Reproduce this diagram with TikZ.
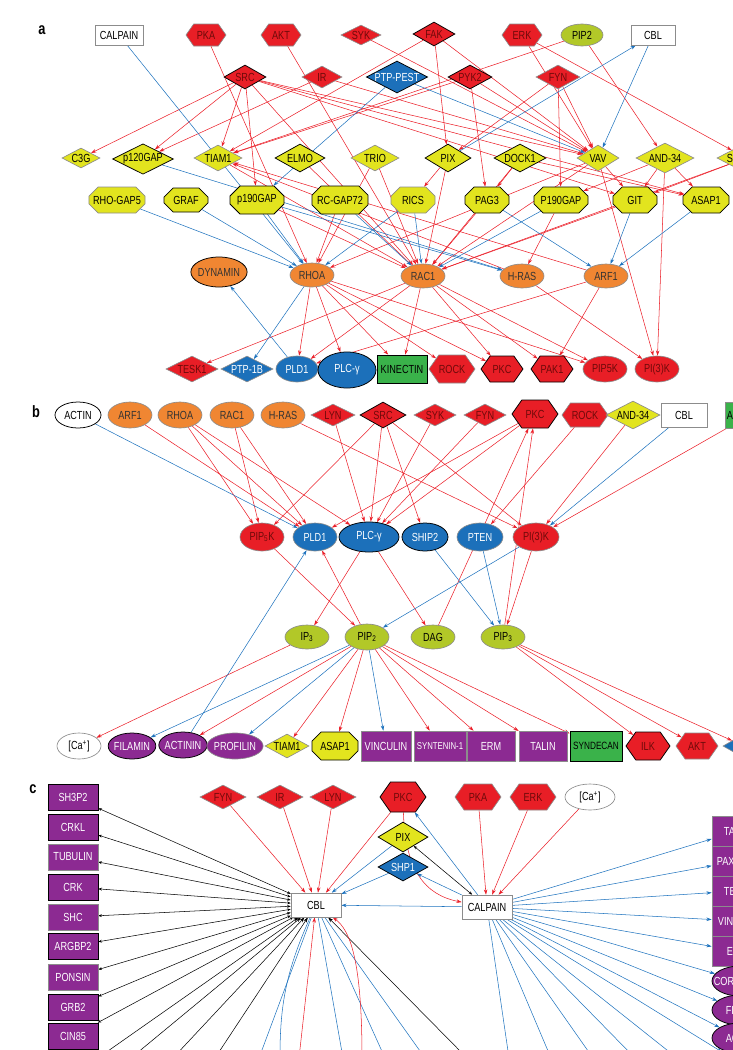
\documentclass[tikz,border=0pt]{standalone}
\usepackage{fontspec}
\newfontfamily\dfont[FakeStretch=0.78]{Liberation Sans}
\newcommand\nodefont{\dfont\fontsize{10}{10}\selectfont}
\usetikzlibrary{shapes.geometric,shapes.misc,shapes.symbols,arrows.meta,backgrounds}
\definecolor{nred}{RGB}{232,30,38}
\definecolor{ntxt}{RGB}{110,10,10}
\definecolor{nblue}{RGB}{28,112,186}
\definecolor{norg}{RGB}{240,134,50}
\definecolor{nyel}{RGB}{226,228,30}
\definecolor{nlime}{RGB}{178,200,40}
\definecolor{npur}{RGB}{140,42,146}
\definecolor{ngrn}{RGB}{58,178,74}
\definecolor{bord}{RGB}{140,140,140}
\definecolor{ered}{RGB}{235,30,40}
\definecolor{eblue}{RGB}{30,115,190}
\tikzset{
  nd/.style={inner sep=0pt, draw=bord, line width=0.55pt, font=\nodefont},
  bk/.style={draw=black, line width=0.65pt},
  sz/.style 2 args={minimum width=#1*0.03cm, minimum height=#2*0.03cm},
  dia/.style={nd, diamond, aspect=2},
  hex/.style={nd, signal, signal to=east and west, signal pointer angle=110},
  oct/.style={nd, chamfered rectangle, chamfered rectangle xsep=1.5mm, chamfered rectangle ysep=1.5mm},
  ell/.style={nd, ellipse, inner sep=-1pt},
  box/.style={nd, rectangle},
  kin/.style={fill=nred, text=ntxt},
  ptp/.style={fill=nblue, text=white},
  gef/.style={fill=nyel},
  gtp/.style={fill=norg, text=black!80},
  lip/.style={fill=nlime},
  cyt/.style={fill=npur, text=white},
  grn/.style={fill=ngrn},
  wht/.style={fill=white},
  cutl/.style n args={3}{label={[font=\nodefont, text=#2, anchor=west, inner sep=0pt, xshift=#1*0.03cm]west:#3}},
  ed/.style={line width=0.45pt, -{Stealth[length=4.5pt,width=3pt]}},
  ra/.style={ed, draw=ered},
  ba/.style={ed, draw=eblue},
  ka/.style={ed, draw=black},
  kk/.style={line width=0.45pt, draw=black, {Stealth[length=3pt,width=2.4pt]}-{Stealth[length=3pt,width=2.4pt]}},
  panel/.style={font=\dfont\fontsize{14}{14}\selectfont\bfseries}
}
\begin{document}
\begin{tikzpicture}[x=0.03cm, y=-0.03cm]
\useasboundingbox (0,0) rectangle (733,1050);
\clip (0,0) rectangle (733,1050);
% panel a
\node[panel] (la) at (42,30) {a};
\node[box,wht,sz={48}{20}] (aCALP) at (119,35) {CALPAIN};
\node[hex,kin,sz={40}{22}] (aPKA) at (206,35) {PKA};
\node[hex,kin,sz={40}{22}] (aAKT) at (281,35) {AKT};
\node[dia,kin,sz={40}{20}] (aSYK) at (361,35) {SYK};
\node[dia,kin,bk,sz={42}{24}] (aFAK) at (434,34) {FAK};
\node[hex,kin,sz={40}{22}] (aERK) at (522,35) {ERK};
\node[ell,lip,sz={42}{22}] (aPIPt) at (582,35) {PIP2};
\node[box,wht,sz={44}{20}] (aCBL) at (653,35) {CBL};
\node[dia,kin,bk,sz={42}{24}] (aSRC) at (245,77) {SRC};
\node[dia,kin,sz={40}{22}] (aIR) at (322,77) {IR};
\node[dia,ptp,bk,sz={60}{32}] (aPEST) at (397,77) {PTP-PEST};
\node[dia,kin,bk,sz={44}{24}] (aPYK) at (470,77) {PYK2};
\node[dia,kin,sz={44}{24}] (aFYN) at (558,77) {FYN};
\node[dia,gef,sz={38}{20}] (aC3G) at (81,158) {C3G};
\node[dia,gef,bk,sz={58}{28}] (aP120) at (143,159) {p120GAP};
\node[dia,gef,sz={48}{26}] (aTIAM) at (218,158) {TIAM1};
\node[dia,gef,bk,sz={50}{28}] (aELMO) at (300,158) {ELMO};
\node[dia,gef,sz={48}{26}] (aTRIO) at (375,158) {TRIO};
\node[dia,gef,bk,sz={46}{28}] (aPIX) at (448,158) {PIX};
\node[dia,gef,bk,sz={52}{28}] (aDOCK) at (520,158) {DOCK1};
\node[dia,gef,sz={42}{26}] (aVAV) at (598,158) {VAV};
\node[dia,gef,sz={58}{30}] (aAND) at (665,158) {AND-34};
\node[dia,gef,sz={58}{30},cutl={10}{black}{S}] (aSx) at (746,158) {};
\node[oct,gef,sz={56}{26}] (aRGAP) at (117,200) {RHO-GAP5};
\node[oct,gef,bk,sz={44}{24}] (aGRAF) at (186,200) {GRAF};
\node[oct,gef,bk,sz={54}{28}] (ap190) at (257,200) {p190GAP};
\node[oct,gef,bk,sz={56}{28}] (aRCG) at (340,200) {RC-GAP72};
\node[oct,gef,sz={44}{26}] (aRICS) at (413,200) {RICS};
\node[oct,gef,bk,sz={44}{26}] (aPAG) at (487,200) {PAG3};
\node[oct,gef,bk,sz={54}{26}] (aP190) at (561,200) {P190GAP};
\node[oct,gef,bk,sz={44}{26}] (aGIT) at (635,200) {GIT};
\node[oct,gef,bk,sz={46}{26}] (aASAP) at (706,200) {ASAP1};
\node[ell,gtp,bk,sz={52}{30}] (aDYN) at (219,272) {DYNAMIN};
\node[ell,gtp,sz={44}{24}] (aRHOA) at (312,275) {RHOA};
\node[ell,gtp,sz={44}{24}] (aRAC) at (423,276) {RAC1};
\node[ell,gtp,sz={44}{24}] (aHRAS) at (522,276) {H-RAS};
\node[ell,gtp,sz={44}{24}] (aARF) at (606,276) {ARF1};
\node[dia,kin,sz={52}{26}] (aTESK) at (192,369) {TESK1};
\node[dia,ptp,sz={52}{26}] (aPTPB) at (247,369) {PTP-1B};
\node[ell,ptp,sz={42}{26}] (aPLD) at (297,369) {PLD1};
\node[ell,ptp,bk,sz={58}{36}] (aPLCg) at (347,370) {PLC-γ};
\node[box,grn,bk,sz={50}{28}] (aKIN) at (402,369) {KINECTIN};
\node[hex,kin,sz={46}{28}] (aROCK) at (452,369) {ROCK};
\node[hex,kin,bk,sz={42}{26}] (aPKC) at (502,369) {PKC};
\node[hex,kin,bk,sz={42}{26}] (aPAK) at (552,369) {PAK1};
\node[ell,kin,sz={44}{26}] (aPIP5K) at (605,369) {PIP5K};
\node[ell,kin,sz={44}{26}] (aPI3K) at (657,369) {PI(3)K};
% panel b
\node[panel] (lb) at (36,412) {b};
\node[ell,wht,bk,sz={46}{26}] (bACT) at (78,415) {ACTIN};
\node[ell,gtp,sz={44}{26}] (bARF) at (130,415) {ARF1};
\node[ell,gtp,sz={44}{26}] (bRHOA) at (180,415) {RHOA};
\node[ell,gtp,sz={44}{26}] (bRAC) at (232,415) {RAC1};
\node[ell,gtp,sz={44}{26}] (bHRAS) at (283,415) {H-RAS};
\node[dia,kin,sz={44}{22}] (bLYN) at (333,415) {LYN};
\node[dia,kin,bk,sz={46}{26}] (bSRC) at (383,415) {SRC};
\node[dia,kin,sz={42}{22}] (bSYK) at (435,415) {SYK};
\node[dia,kin,sz={42}{22}] (bFYN) at (485,415) {FYN};
\node[hex,kin,bk,sz={46}{28}] (bPKC) at (535,414) {PKC};
\node[hex,kin,sz={46}{24}] (bROCK) at (585,415) {ROCK};
\node[dia,gef,sz={54}{28}] (bAND) at (633,415) {AND-34};
\node[box,wht,sz={46}{24}] (bCBL) at (684,415) {CBL};
\node[box,grn,sz={50}{26},cutl={2}{black}{A}] (bAx) at (750,415) {};
\node[ell,kin,sz={44}{28}] (bPIP5K) at (262,537) {PIP\textsubscript{5}K};
\node[ell,ptp,sz={44}{28}] (bPLD) at (315,537) {PLD1};
\node[ell,ptp,bk,sz={60}{30}] (bPLCg) at (369,537) {PLC-γ};
\node[ell,ptp,bk,sz={46}{28}] (bSHIP) at (425,537) {SHIP2};
\node[ell,ptp,sz={46}{28}] (bPTEN) at (480,537) {PTEN};
\node[ell,kin,sz={46}{28}] (bPI3K) at (536,537) {PI(3)K};
\node[ell,lip,sz={44}{24}] (bIP3) at (307,637) {IP\textsubscript{3}};
\node[ell,lip,sz={44}{26}] (bPIP2) at (367,637) {PIP\textsubscript{2}};
\node[ell,lip,sz={44}{24}] (bDAG) at (433,637) {DAG};
\node[ell,lip,sz={44}{24}] (bPIP3) at (503,637) {PIP\textsubscript{3}};
\node[ell,wht,sz={44}{26}] (bCa) at (79,746) {[Ca\textsuperscript{+}]};
\node[ell,cyt,bk,sz={46}{26}] (bFIL) at (132,746) {FILAMIN};
\node[ell,cyt,bk,sz={46}{26}] (bACTN) at (183,745) {ACTININ};
\node[ell,cyt,sz={50}{26}] (bPROF) at (235,746) {PROFILIN};
\node[dia,gef,sz={44}{24}] (bTIAM) at (287,746) {TIAM1};
\node[oct,gef,bk,sz={46}{28}] (bASAP) at (335,746) {ASAP1};
\node[box,cyt,sz={50}{30}] (bVIN) at (386,746) {VINCULIN};
\node[box,cyt,sz={52}{30},font=\dfont\fontsize{8.5}{9}\selectfont] (bSYN) at (440,746) {SYNTENIN-1};
\node[box,cyt,sz={48}{30}] (bERM) at (491,746) {ERM};
\node[box,cyt,sz={48}{30}] (bTAL) at (543,746) {TALIN};
\node[box,grn,bk,sz={52}{30},font=\dfont\fontsize{9}{9}\selectfont] (bSDC) at (596,746) {SYNDECAN};
\node[hex,kin,bk,sz={44}{28}] (bILK) at (648,746) {ILK};
\node[hex,kin,sz={42}{26}] (bAKT) at (697,746) {AKT};
\node[dia,ptp,sz={42}{24}] (bBx) at (744,746) {};
% panel c
\node[panel] (lc) at (33,789) {c};
\node[box,cyt,bk,sz={50}{26}] (cSH3) at (73,797) {SH3P2};
\node[box,cyt,bk,sz={50}{26}] (cCRKL) at (73,827) {CRKL};
\node[box,cyt,sz={50}{26}] (cTUB) at (73,857) {TUBULIN};
\node[box,cyt,bk,sz={50}{26}] (cCRK) at (73,887) {CRK};
\node[box,cyt,sz={50}{26}] (cSHC) at (73,917) {SHC};
\node[box,cyt,bk,sz={50}{26}] (cARG) at (73,946) {ARGBP2};
\node[box,cyt,sz={50}{26}] (cPON) at (73,977) {PONSIN};
\node[box,cyt,bk,sz={50}{26}] (cGRB) at (73,1007) {GRB2};
\node[box,cyt,bk,sz={50}{26}] (cCIN) at (73,1036) {CIN85};
\node[dia,kin,sz={46}{24}] (cFYN) at (223,797) {FYN};
\node[dia,kin,sz={46}{24}] (cIR) at (280,797) {IR};
\node[dia,kin,sz={46}{24}] (cLYN) at (333,797) {LYN};
\node[hex,kin,bk,sz={46}{30}] (cPKC) at (403,797) {PKC};
\node[hex,kin,sz={46}{26}] (cPKA) at (478,797) {PKA};
\node[hex,kin,sz={46}{26}] (cERK) at (533,797) {ERK};
\node[ell,wht,sz={50}{26}] (cCa) at (590,797) {[Ca\textsuperscript{+}]};
\node[dia,gef,bk,sz={50}{30}] (cPIX) at (403,837) {PIX};
\node[dia,ptp,bk,sz={50}{28}] (cSHP) at (403,867) {SHP1};
\node[box,wht,sz={50}{24}] (cCBL) at (316,905) {CBL};
\node[box,wht,sz={50}{24}] (cCALP) at (487,907) {CALPAIN};
\node[box,cyt,sz={52}{30},cutl={12}{white}{TA}] (cTA) at (738,831) {};
\node[box,cyt,sz={52}{30},cutl={5}{white}{PAX}] (cPAX) at (738,861) {};
\node[box,cyt,sz={52}{30},cutl={12}{white}{TE}] (cTE) at (738,891) {};
\node[box,cyt,sz={52}{30},cutl={6}{white}{VINC}] (cVIN) at (738,921) {};
\node[box,cyt,sz={52}{30},cutl={15}{white}{E}] (cE) at (738,951) {};
\node[ell,cyt,bk,sz={56}{30},cutl={2}{white}{CORT}] (cCOR) at (740,981) {};
\node[ell,cyt,bk,sz={56}{30},cutl={14}{white}{FIL}] (cFIL) at (740,1010) {};
\node[ell,cyt,bk,sz={56}{30},cutl={14}{white}{AC}] (cAC) at (740,1038) {};
\coordinate (k1) at (98,1058); \coordinate (k2) at (131,1058);
\coordinate (k3) at (173,1058); \coordinate (k4) at (215,1058);
\coordinate (k5) at (467,1058);
\coordinate (u1) at (259,1058); \coordinate (u2) at (280,1058);
\coordinate (u3) at (343,1058); \coordinate (u4) at (385,1058);
\coordinate (u5) at (425,1058);
\coordinate (r1) at (299,1058); \coordinate (r2) at (362,1058);
\coordinate (v1) at (509,1058); \coordinate (v2) at (551,1058);
\coordinate (v3) at (593,1058); \coordinate (v4) at (635,1058);
\coordinate (v5) at (677,1058); \coordinate (v6) at (722,1052);
\begin{pgfonlayer}{background}
\clip (0,0) rectangle (733,1050);
% connectors a
\foreach \a/\b in {aSRC/aC3G, aSRC/aP120, aIR/aP120, aSRC/aTIAM, aSRC/ap190, aSRC/aRAC,
  aSRC/aVAV, aSRC/aGIT, aSRC/aASAP, aIR/aVAV, aPYK/aTIAM, aPIPt/aTIAM, aAKT/aRAC,
  aPKA/aRHOA, aSYK/aVAV, aFAK/aPIX, aFAK/aVAV, aFAK/aTIAM, aERK/aSx, aERK/aVAV,
  aPIPt/aAND, aPYK/aPAG, aPYK/aVAV, aFYN/aP190, aFYN/aVAV, aFYN/aPIX, aDOCK/aRAC,
  aDOCK/aPAG, aDOCK/aASAP, aVAV/aRAC, aVAV/aRHOA, aVAV/aPI3K, aVAV/aGIT, aAND/aASAP,
  aAND/aGIT, aAND/aP190, aAND/aPI3K, aSx/aGIT, aSx/aRAC, aTIAM/aRAC, aELMO/aRAC,
  aTRIO/aRHOA, aTRIO/aRAC, aPIX/aRICS, aPIX/aRAC, aHRAS/aTIAM, aARF/aTIAM, aRCG/aRHOA,
  aPAG/aRAC, aP190/aHRAS, aGIT/aRAC, ap190/aRAC, aRHOA/aPLD, aRHOA/aPLCg, aRHOA/aKIN,
  aRHOA/aROCK, aRHOA/aPKC, aRHOA/aPIP5K, aRAC/aTESK, aRAC/aPLD, aRAC/aKIN, aRAC/aPKC,
  aRAC/aPAK, aRAC/aPIP5K, aHRAS/aPI3K, aARF/aPLD, aARF/aPAK}
  \draw[ra] (\a) -- (\b);
\foreach \a/\b in {aCALP/aRHOA, aPEST/ap190, aPEST/aVAV, aCBL/aVAV, aPIX/aCBL, aP120/aHRAS,
  aRGAP/aRHOA, aGRAF/aRHOA, ap190/aRHOA, ap190/aHRAS, aRCG/aRAC, aRICS/aRHOA, aRICS/aRAC,
  aPAG/aARF, aP190/aRAC, aGIT/aARF, aASAP/aARF, aRHOA/aPTPB, aPLD/aDYN}
  \draw[ba] (\a) -- (\b);
% connectors b
\foreach \a/\b in {bARF/bPLD, bRHOA/bPIP5K, bRHOA/bPLD, bRHOA/bPLCg, bRAC/bPIP5K, bRAC/bPLD,
  bHRAS/bPI3K, bLYN/bPLCg, bSRC/bPIP5K, bSRC/bPLCg, bSRC/bSHIP, bSRC/bPI3K, bSYK/bPLCg,
  bFYN/bPLCg, bPKC/bPLD, bPKC/bPLCg, bDAG/bPKC, bPIP3/bPKC, bROCK/bPTEN, bAND/bPI3K,
  bAx/bPI3K, bPIP5K/bPIP2, bPIP2/bPLD, bPLCg/bIP3, bPLCg/bDAG, bPI3K/bPIP3, bIP3/bCa,
  bPIP2/bACTN, bPIP2/bTIAM, bPIP2/bASAP, bPIP2/bSYN, bPIP2/bERM, bPIP2/bTAL, bPIP2/bSDC,
  bPIP3/bILK, bPIP3/bAKT, bPIP3/bBx}
  \draw[ra] (\a) -- (\b);
\foreach \a/\b in {bACT/bPLD, bCBL/bPI3K, bSHIP/bPIP3, bPTEN/bPIP3, bPI3K/bPIP2, bACTN/bPLD,
  bPIP2/bFIL, bPIP2/bPROF, bPIP2/bVIN}
  \draw[ba] (\a) -- (\b);
% connectors c
\foreach \a/\b in {cFYN/cCBL, cIR/cCBL, cLYN/cCBL, cPKC/cCBL, cPKA/cCALP, cERK/cCALP, cCa/cCALP}
  \draw[ra] (\a) -- (\b);
\draw[ra] (cPKC) .. controls (405,870) and (425,895) .. (cCALP);
\foreach \a/\b in {cPIX/cCBL, cSHP/cCBL, cCALP/cCBL, cCALP/cPKC, cCALP/cSHP, cCALP/cTA,
  cCALP/cPAX, cCALP/cTE, cCALP/cVIN, cCALP/cE, cCALP/cCOR, cCALP/cFIL, cCALP/cAC,
  cCALP/v1, cCALP/v2, cCALP/v3, cCALP/v4, cCALP/v5, cCALP/v6,
  cCBL/u1, cCBL/u3, cCBL/u4, cCBL/u5}
  \draw[ba] (\a) -- (\b);
\draw[ba] (cCBL) to[bend right=12] (u2);
\foreach \a in {cSH3, cCRKL, cTUB, cCRK, cSHC, cARG, cPON, cGRB, cCIN}
  \draw[kk] (\a) -- (cCBL);
\draw[kk] (cPIX) -- (cCALP);
\foreach \a in {k1, k2, k3, k4, k5}
  \draw[ka] (\a) -- (cCBL);
\draw[ra] (r1) -- (cCBL);
\draw[ra] (r2) .. controls (362,960) and (350,930) .. (cCBL);
\end{pgfonlayer}
\end{tikzpicture}
\end{document}
